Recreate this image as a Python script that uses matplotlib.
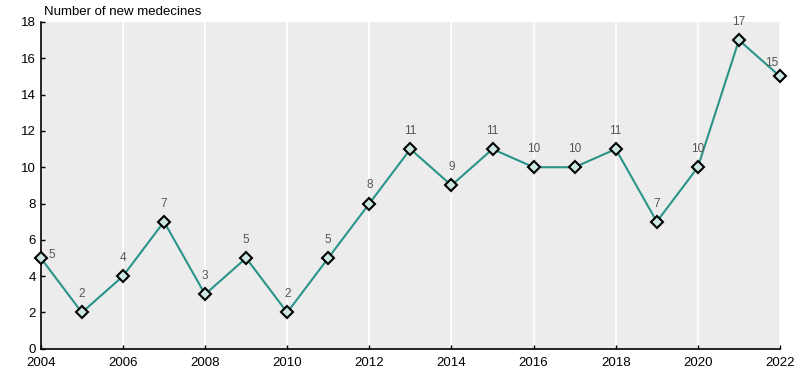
import matplotlib.pyplot as plt

years = list(range(2004, 2023))
medicines = [5, 2, 4, 7, 3, 5, 2, 5, 8, 11, 9, 11, 10, 10, 11, 7, 10, 17, 15]
xticks = list(range(2004, 2023, 2))
yticks = list(range(0, 19, 2))

plt.rcParams['font.family'] = ['Liberation Sans', 'DejaVu Sans']

fig = plt.figure(figsize=(8, 3.85), dpi=100)
ax = fig.add_axes([0.051, 0.094, 0.924, 0.849])
ax.set_facecolor('#ececec')

for x in xticks:
    ax.axvline(x, color='white', lw=1.2, zorder=1)

ax.plot(years, medicines, color='#2a9488', lw=1.5, zorder=3, clip_on=False,
        marker='D', markersize=6.5, markerfacecolor='#cde8e2',
        markeredgecolor='black', markeredgewidth=1.5)

for x, y in zip(years, medicines):
    if x == 2004:
        ax.annotate(str(y), (x, y), xytext=(8, 2), textcoords='offset points',
                    ha='center', va='center', fontsize=8.5, color='#555555')
    elif x == 2022:
        ax.annotate(str(y), (x, y), xytext=(-6, 10), textcoords='offset points',
                    ha='center', va='center', fontsize=8.5, color='#555555')
    else:
        ax.annotate(str(y), (x, y), xytext=(0, 13), textcoords='offset points',
                    ha='center', va='center', fontsize=8.5, color='#555555')

ax.set_xlim(2004, 2022)
ax.set_ylim(0, 18)
ax.set_xticks(xticks)
ax.set_yticks(yticks)
ax.tick_params(direction='in', length=3, width=1, labelsize=9.5, colors='black')
ax.tick_params(axis='x', pad=6)
for s in ['top', 'right']:
    ax.spines[s].set_visible(False)
for s in ['left', 'bottom']:
    ax.spines[s].set_linewidth(1.2)

fig.text(0.055, 0.968, 'Number of new medecines', fontsize=9.5, ha='left', va='center')

fig.savefig('out.png', dpi=100)
